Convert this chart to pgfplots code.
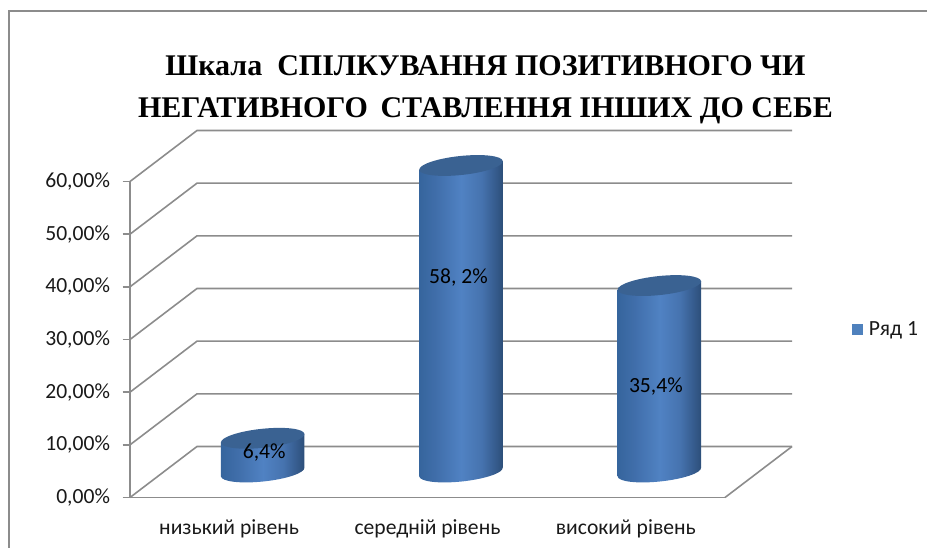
\documentclass[border=0pt]{standalone}
\usepackage{fontspec}
\setmainfont{Carlito}
\newfontfamily\titlefont{Liberation Serif}
\usepackage{pgfplots}
\pgfplotsset{compat=1.18}
\definecolor{gridc}{RGB}{140,140,140}
\definecolor{cyltop}{RGB}{58,98,146}
\definecolor{legblue}{RGB}{79,129,189}
\definecolor{txt}{RGB}{25,25,25}
\definecolor{cA}{RGB}{54,101,157}
\definecolor{cB}{RGB}{64,110,170}
\definecolor{cC}{RGB}{80,130,195}
\definecolor{cD}{RGB}{70,115,175}
\definecolor{cE}{RGB}{54,92,142}
\definecolor{cF}{RGB}{44,78,120}
\def\px{0.75pt}
\pgfdeclarehorizontalshading{cyl}{100bp}{
 color(0bp)=(cA);
 color(25bp)=(cA);
 color(35bp)=(cB);
 color(50bp)=(cC);
 color(62bp)=(cD);
 color(70bp)=(cE);
 color(75bp)=(cF);
 color(100bp)=(cF)}
\pgfdeclareplotmark{emptymark}{}
\newcommand\cylinderbody[1]{%
 \pgfmathsetmacro\hh{#1*5.2667}%
 \shade[shading=cyl,draw=none]
  ({-41.77*\px},{-4.39*\px}) -- ({-41.77*\px},{(-4.39-\hh)*\px})
  .. controls ({-41.22*\px},{(-9.61-\hh)*\px}) and ({-22.08*\px},{(-11.87-\hh)*\px}) .. ({0.99*\px},{(-9.45-\hh)*\px})
  .. controls ({24.06*\px},{(-7.03-\hh)*\px}) and ({42.32*\px},{(-0.83-\hh)*\px}) .. ({41.77*\px},{(4.39-\hh)*\px})
  -- ({41.77*\px},{4.39*\px}) -- cycle;
 \fill[cyltop,draw=none]
  ({-41.77*\px},{-4.39*\px})
  .. controls ({-41.22*\px},{-9.61*\px}) and ({-22.08*\px},{-11.87*\px}) .. ({0.99*\px},{-9.45*\px})
  .. controls ({24.06*\px},{-7.03*\px}) and ({42.32*\px},{-0.83*\px}) .. ({41.77*\px},{4.39*\px})
  .. controls ({41.22*\px},{9.61*\px}) and ({22.08*\px},{11.87*\px}) .. ({-0.99*\px},{9.45*\px})
  .. controls ({-24.06*\px},{7.03*\px}) and ({-42.32*\px},{0.83*\px}) .. ({-41.77*\px},{-4.39*\px}) -- cycle;
}
\begin{document}
\begin{tikzpicture}
\useasboundingbox (0,0) rectangle (695.25pt,411pt);
\draw[gridc,line width=1.2pt] (6.75pt,0) -- (6.75pt,402.75pt) -- (695.25pt,402.75pt);
\begin{axis}[
 at={(97.5pt,37.875pt)},anchor=south west,
 scale only axis,width=446.25pt,height=237pt,
 xmin=-0.5,xmax=2.5,ymin=0,ymax=60,
 clip=false,clip mode=individual,
 axis x line*=bottom,axis y line*=left,
 axis line style={gridc,line width=1.2pt,-},
 every tick/.style={gridc,line width=1.2pt},
 major tick length=5.5pt,
 xtick={0,1,2},
 xticklabels={низький рівень,середній рівень,високий рівень},
 x tick style={draw=none},
 minor xtick={-0.5,0.5,1.5,2.5},
 minor tick length=6pt,
 minor x tick style={gridc,line width=1.2pt},
 xticklabel style={font=\fontsize{16.2pt}{18pt}\selectfont,text=txt,yshift=-7.75pt},
 ytick={0,10,20,30,40,50,60},
 yticklabels={{0,00\%},{10,00\%},{20,00\%},{30,00\%},{40,00\%},{50,00\%},{60,00\%}},
 yticklabel style={font=\fontsize{16.2pt}{18pt}\selectfont,text=txt,xshift=-6pt},
 tick align=outside,
 title={Шкала\ \ СПІЛКУВАННЯ ПОЗИТИВНОГО ЧИ\\НЕГАТИВНОГО\ \,СТАВЛЕННЯ ІНШИХ ДО СЕБЕ},
 title style={at={(0.5975,1.264)},anchor=center,align=center,font=\titlefont\bfseries\fontsize{22.5pt}{31.5pt}\selectfont,text=black},
 legend style={at={(1.2135,0.533)},anchor=west,draw=none,fill=none,font=\fontsize{16.2pt}{18pt}\selectfont,text=txt,inner sep=0pt,/tikz/every odd column/.append style={column sep=2.25pt}},
 legend image code/.code={\fill[legblue,draw=none] (-27.375pt,-23.225pt) rectangle (-19.125pt,-15.025pt);},
 legend cell align=left,
]
\pgfplotsinvokeforeach{0,10,...,60}{
 \draw[gridc,line width=1.2pt] (axis cs:-0.5,#1) -- ([shift={(50.25pt,38.25pt)}]axis cs:-0.5,#1) -- ([shift={(50.25pt,38.25pt)}]axis cs:2.5,#1);
}
\draw[gridc,line width=1.2pt] (axis cs:2.5,0) -- ([shift={(50.25pt,38.25pt)}]axis cs:2.5,0);
\addplot[
 scatter,only marks,mark=emptymark,
 shift={(25.125pt,19.125pt)},
 scatter src=y,
 visualization depends on={rawy \as \vv},
 scatter/@pre marker code/.code={\pgfscope\cylinderbody{\vv}},
 scatter/@post marker code/.code={\endpgfscope},
] table {
x y
0 6.4
1 58.2
2 35.4
};
\addlegendentry{Ряд 1}
\node[font=\fontsize{16.2pt}{18pt}\selectfont,text=black] at ([shift={(26.25pt,19.125pt)}]axis cs:0,3.7) {6,4\%};
\node[font=\fontsize{16.2pt}{18pt}\selectfont,text=black] at ([shift={(23.25pt,19.125pt)}]axis cs:1,37) {58, 2\%};
\node[font=\fontsize{16.2pt}{18pt}\selectfont,text=black] at ([shift={(22.5pt,19.125pt)}]axis cs:2,16.3) {35,4\%};
\end{axis}
\end{tikzpicture}
\end{document}
